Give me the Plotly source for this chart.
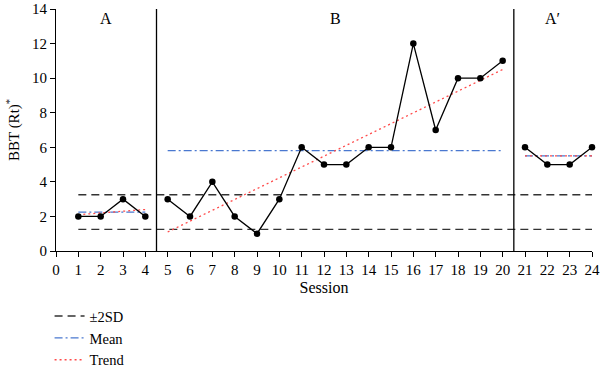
import plotly.graph_objects as go

# ---- data ----
sessions = list(range(1, 25))
bbt = [2, 2, 3, 2,
       3, 2, 4, 2, 1, 3, 6, 5, 5, 6, 6, 12, 7, 10, 10, 11,
       6, 5, 5, 6]
phase_names = ["A", "B", "A′"]
phase_ranges = [(1, 4), (5, 20), (21, 24)]   # session ranges per phase
phase_boundaries = [4.5, 20.5]
phase_means = [2.25, 5.8125, 5.5]
trend_start = [2.1, 1.1, 5.5]
trend_end = [2.4, 10.5, 5.5]
sd_upper = 3.25
sd_lower = 1.25
x_ticks = list(range(0, 25))
y_ticks = list(range(0, 15, 2))

FONT = "Liberation Serif"
BLUE = "#4a78d0"
RED = "#ff4a4a"
SDC = "#333333"

fig = go.Figure()

# ±2SD lines (spanning all sessions)
fig.add_trace(go.Scatter(
    x=[sessions[0], sessions[-1], None, sessions[0], sessions[-1]],
    y=[sd_upper, sd_upper, None, sd_lower, sd_lower],
    mode="lines", line=dict(color=SDC, width=1.4, dash="8px,5px"),
    name="±2SD", showlegend=True, hoverinfo="skip"))

# mean lines per phase
for i, (a, b) in enumerate(phase_ranges):
    fig.add_trace(go.Scatter(
        x=[a, b], y=[phase_means[i], phase_means[i]], mode="lines",
        line=dict(color=BLUE, width=1.3, dash="8px,3px,2px,3px"),
        name="Mean", legendgroup="mean", showlegend=(i == 0)))

# trend lines per phase
for i, (a, b) in enumerate(phase_ranges):
    fig.add_trace(go.Scatter(
        x=[a, b], y=[trend_start[i], trend_end[i]], mode="lines",
        line=dict(color=RED, width=1.3, dash="2px,3px"),
        name="Trend", legendgroup="trend", showlegend=(i == 0)))

# data per phase
for i, (a, b) in enumerate(phase_ranges):
    xs = [s for s in sessions if a <= s <= b]
    ys = [bbt[s - 1] for s in xs]
    fig.add_trace(go.Scatter(
        x=xs, y=ys, mode="lines+markers",
        line=dict(color="black", width=1.3),
        marker=dict(color="black", size=6.5),
        showlegend=False, cliponaxis=False, name=phase_names[i]))

# phase boundaries
for xb in phase_boundaries:
    fig.add_shape(type="line", x0=xb, x1=xb, y0=0, y1=14,
                  xref="x", yref="y", line=dict(color="black", width=1.3))

# phase labels
centers = [(0 + phase_boundaries[0]) / 2,
           (phase_boundaries[0] + phase_boundaries[1]) / 2,
           (phase_boundaries[1] + 24) / 2]
for name, cx in zip(phase_names, centers):
    fig.add_annotation(x=cx, y=14, xref="x", yref="y", text=name,
                       showarrow=False, yanchor="top", yshift=1,
                       font=dict(family=FONT, size=16, color="black"))

fig.update_layout(
    width=600, height=371,
    margin=dict(l=56, r=8, t=9, b=120, autoexpand=False),
    paper_bgcolor="white", plot_bgcolor="white",
    font=dict(family=FONT, size=15, color="black"),
    showlegend=True,
    legend=dict(x=-0.012, y=-0.203, xanchor="left", yanchor="top",
                orientation="v", font=dict(family=FONT, size=14.5),
                itemwidth=30, tracegroupgap=0, bgcolor="rgba(0,0,0,0)"),
)
fig.update_xaxes(range=[0, 24], tickmode="array", tickvals=x_ticks,
                 ticks="outside", ticklen=5, tickcolor="black",
                 showline=True, linecolor="black", linewidth=1.2,
                 showgrid=False, zeroline=False,
                 tickfont=dict(family=FONT, size=15),
                 title=dict(text="Session", standoff=4,
                            font=dict(family=FONT, size=16)))
fig.update_yaxes(range=[0, 14], tickmode="array", tickvals=y_ticks,
                 ticks="outside", ticklen=5, tickcolor="black",
                 showline=True, linecolor="black", linewidth=1.2,
                 showgrid=False, zeroline=False,
                 tickfont=dict(family=FONT, size=15),
                 title=dict(text="BBT (Rt)<sup>*</sup>", standoff=8,
                            font=dict(family=FONT, size=15)))

fig.write_html("out.html")
